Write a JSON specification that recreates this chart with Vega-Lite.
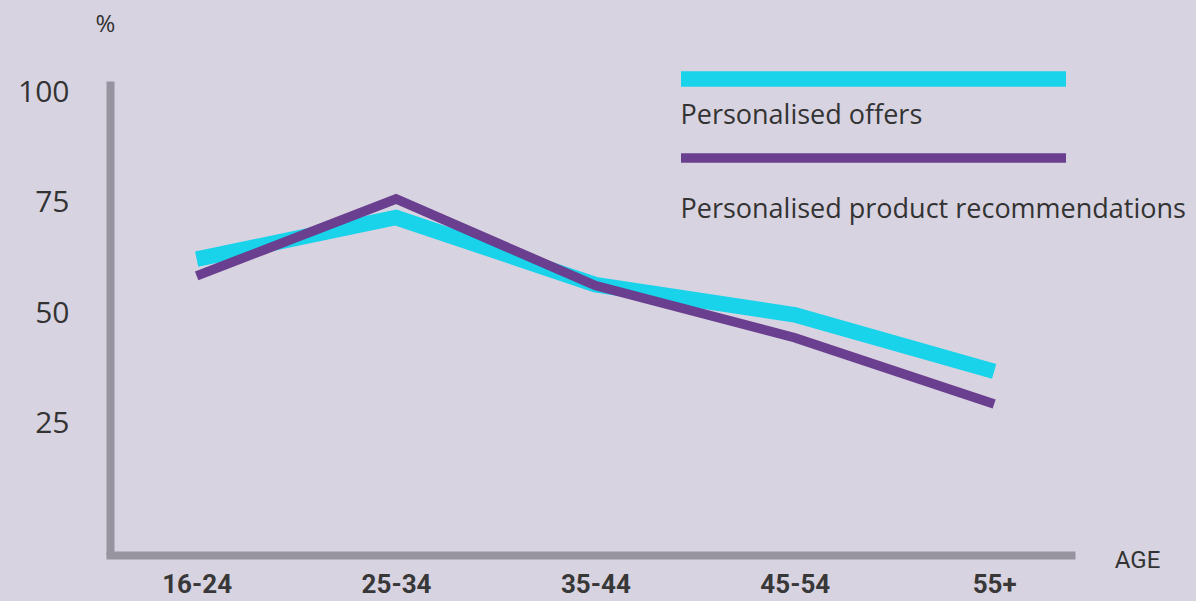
{
  "$schema": "https://vega.github.io/schema/vega-lite/v6.json",
  "autosize": {"type": "none"},
  "width": 961,
  "height": 474,
  "padding": {"left": 110, "top": 81, "right": 125, "bottom": 46},
  "background": "#d8d3e1",
  "config": {"view": {"stroke": null}},
  "data": {
    "values": [
      {"age": "16-24", "series": "Personalised offers", "pct": 62.2},
      {"age": "25-34", "series": "Personalised offers", "pct": 71.6},
      {"age": "35-44", "series": "Personalised offers", "pct": 56.4},
      {"age": "45-54", "series": "Personalised offers", "pct": 49.6},
      {"age": "55+", "series": "Personalised offers", "pct": 36.8},
      {"age": "16-24", "series": "Personalised product recommendations", "pct": 58.4},
      {"age": "25-34", "series": "Personalised product recommendations", "pct": 75.8},
      {"age": "35-44", "series": "Personalised product recommendations", "pct": 56.2},
      {"age": "45-54", "series": "Personalised product recommendations", "pct": 44.4},
      {"age": "55+", "series": "Personalised product recommendations", "pct": 29.4}
    ]
  },
  "mark": {"type": "line", "strokeJoin": "miter", "strokeCap": "butt"},
  "encoding": {
    "x": {
      "field": "age",
      "type": "ordinal",
      "sort": null,
      "scale": {"type": "point", "padding": 0.41, "align": 0.53},
      "axis": {
        "title": "AGE",
        "titleFont": "Roboto",
        "titleFontSize": 24,
        "titleFontWeight": "normal",
        "titleColor": "#333333",
        "titleX": 1027,
        "titleY": 12,
        "titleAlign": "center",
        "titleBaseline": "alphabetic",
        "labelAngle": 0,
        "labelFont": "Roboto",
        "labelFontSize": 26,
        "labelFontWeight": "bold",
        "labelColor": "#383838",
        "labelPadding": 16,
        "ticks": false,
        "domainColor": "#98949f",
        "domainWidth": 8,
        "domainCap": "square",
        "grid": false
      }
    },
    "y": {
      "field": "pct",
      "type": "quantitative",
      "scale": {"domain": [-4.75, 102.49], "nice": false, "zero": false},
      "axis": {
        "title": "%",
        "titleFont": "Open Sans",
        "titleFontSize": 24,
        "titleFontWeight": "normal",
        "titleColor": "#333333",
        "titleAngle": 0,
        "titleX": -5,
        "titleY": -50,
        "titleAlign": "center",
        "titleBaseline": "alphabetic",
        "values": [25, 50, 75, 100],
        "labelFont": "Open Sans",
        "labelFontSize": 30,
        "labelColor": "#333333",
        "labelPadding": 41,
        "ticks": false,
        "domainColor": "#98949f",
        "domainWidth": 8,
        "grid": false
      }
    },
    "color": {
      "field": "series",
      "type": "nominal",
      "scale": {
        "domain": ["Personalised offers", "Personalised product recommendations"],
        "range": ["#18d3ea", "#6a3f8f"]
      },
      "legend": {
        "title": null,
        "orient": "none",
        "legendX": 557.5,
        "legendY": -15.5,
        "direction": "vertical",
        "symbolSize": 16,
        "symbolType": "M0,0H192.5",
        "labelFont": "Open Sans",
        "labelFontSize": 27,
        "labelColor": "#333333",
        "labelLimit": 0,
        "labelOffset": -14,
        "labelExpr": "datum.label === 'Personalised offers' ? datum.label : ['', datum.label]",
        "rowPadding": 9,
        "encode": {
          "labels": {
            "update": {
              "dy": {"value": 37},
              "lineHeight": {"value": 15}
            }
          }
        }
      }
    },
    "strokeWidth": {
      "field": "series",
      "type": "nominal",
      "scale": {
        "type": "point",
        "domain": ["Personalised offers", "Personalised product recommendations"],
        "range": [15.5, 9.5]
      }
    }
  }
}
